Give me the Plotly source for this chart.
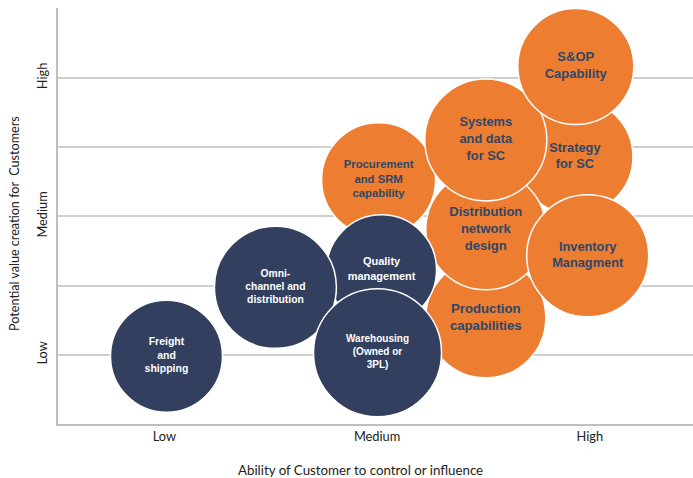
import plotly.graph_objects as go

# Bubble data (drawing order: bottom to top)
labels = [
    "Strategy<br>for SC",
    "Procurement<br>and SRM<br>capability",
    "Production<br>capabilities",
    "Distribution<br>network<br>design",
    "Systems<br>and data<br>for SC",
    "Inventory<br>Managment",
    "S&OP<br>Capability",
    "Quality<br>management",
    "Omni-<br>channel and<br>distribution",
    "Freight<br>and<br>shipping",
    "Warehousing<br>(Owned or<br>3PL)",
]
x_vals = [2.93, 2.007, 2.511, 2.511, 2.511, 2.99, 2.934, 2.021, 1.522, 1.01, 2.002]
y_vals = [2.43, 2.264, 1.267, 1.903, 2.552, 1.715, 3.083, 1.614, 1.487, 0.99, 1.014]
diam = [116, 114, 120, 120, 122, 122, 116, 110, 122, 112, 128]
group = ["orange", "orange", "orange", "orange", "orange", "orange", "orange",
         "navy", "navy", "navy", "navy"]
font_sizes = [12.8, 11.3, 13.2, 13, 12.8, 12.8, 13, 11, 10.3, 10.5, 10]

x_ticks = [1, 2, 3]
x_ticktext = ["Low", "Medium", "High"]
y_ticks = [0.5, 1, 1.5, 2, 2.5, 3, 3.5]
y_ticktext = ["", "Low", "", "Medium", "", "High", ""]

x_title = "Ability of Customer to control or influence"
y_title = "Potential value creation for  Customers"

ORANGE = "#ED7D31"
NAVY = "#323F5F"
TXT_DARK = "#2F4766"

fill = [ORANGE if g == "orange" else NAVY for g in group]
tcol = [TXT_DARK if g == "orange" else "#FFFFFF" for g in group]

fig = go.Figure()
fig.add_trace(go.Scatter(
    x=x_vals, y=y_vals, mode="markers+text",
    text=["<b>" + t + "</b>" for t in labels],
    textposition="middle center",
    textfont=dict(family="Liberation Sans, Arial", size=font_sizes, color=tcol),
    marker=dict(size=diam, sizemode="diameter", color=fill, opacity=1,
                line=dict(color="#FFFFFF", width=1.5)),
    cliponaxis=False, showlegend=False, hoverinfo="skip",
))

fig.update_layout(
    width=693, height=478,
    margin=dict(l=58, r=0, t=8, b=54),
    paper_bgcolor="white", plot_bgcolor="white",
    font=dict(family="Lato, Open Sans, sans-serif", size=12.5, color="#222222"),
    xaxis=dict(
        range=[0.5, 3.485], tickvals=x_ticks, ticktext=x_ticktext,
        showgrid=False, zeroline=False, showline=True, linecolor="#BFBFBF",
        linewidth=2, ticks="", tickfont=dict(size=12.8),
    ),
    yaxis=dict(
        range=[0.5, 3.505], tickvals=y_ticks, ticktext=y_ticktext,
        tickangle=-90, showgrid=True, gridcolor="#CFCFCF", gridwidth=1.5,
        zeroline=False, showline=True, linecolor="#BFBFBF", linewidth=2,
        ticks="", tickfont=dict(size=12.8), ticklabelstandoff=4,
    ),
    annotations=[
        dict(text=x_title, xref="paper", yref="paper", x=0.477, y=-0.1106,
             showarrow=False, xanchor="center", yanchor="middle",
             font=dict(size=13.3)),
        dict(text=y_title, xref="paper", yref="paper", x=-0.0677, y=0.481,
             showarrow=False, xanchor="center", yanchor="middle",
             textangle=-90, font=dict(size=12.6)),
    ],
)

fig.write_html("out.html")
